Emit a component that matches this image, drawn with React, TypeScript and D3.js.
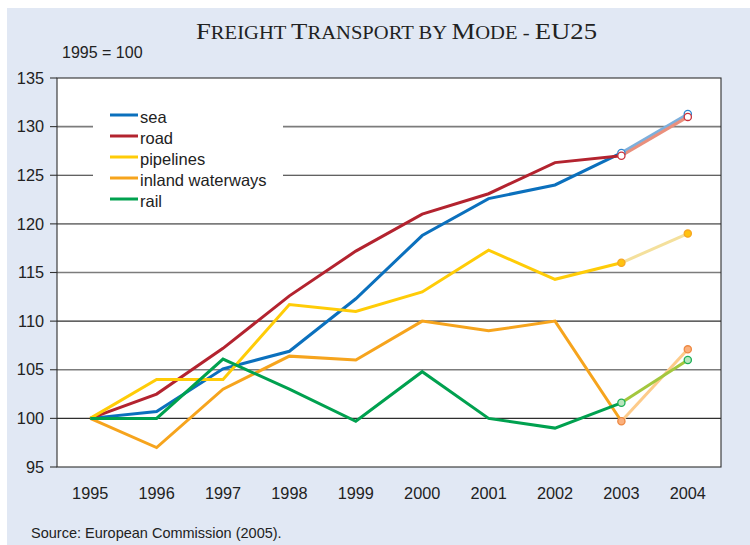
import React from 'react'
import * as d3 from 'd3'

// index values, 1995 = 100
const years = ['1995', '1996', '1997', '1998', '1999', '2000', '2001', '2002', '2003', '2004']
const sea = [100, 100.7, 105.1, 106.9, 112.3, 118.8, 122.6, 124.0, 127.3, 131.3]
const road = [100, 102.5, 107.2, 112.6, 117.2, 121.0, 123.1, 126.3, 127.0, 131.0]
const pipelines = [100, 104, 104, 111.7, 111.0, 113.0, 117.3, 114.3, 116.0, 119.0]
const inlandWaterways = [100, 97, 103, 106.4, 106.0, 110.0, 109.0, 110.0, 99.7, 107.1]
const rail = [100, 100, 106.1, 103.0, 99.7, 104.8, 100.0, 99.0, 101.6, 106.0]
const yTicks = [95, 100, 105, 110, 115, 120, 125, 130, 135]
const seriesNames = ['sea', 'road', 'pipelines', 'inland waterways', 'rail']

const styles = [
  { color: '#0b70bd', est: '#7dafdc', mFill: '#ffffff', mStroke: '#2f86cf' },
  { color: '#b3232f', est: '#ea8f7c', mFill: '#ffffff', mStroke: '#c9323c' },
  { color: '#ffcc07', est: '#f4e09c', mFill: '#ffc20f', mStroke: '#f6a623' },
  { color: '#f6a41d', est: '#fdcb8a', mFill: '#fbb07c', mStroke: '#ee8a44' },
  { color: '#00a14f', est: '#a3c73e', mFill: '#b9e6bd', mStroke: '#1daf57' },
]

const W = 750
const H = 545
const left = 57
const right = 721
const top = 78
const bottom = 467

export default function App() {
  const series = [sea, road, pipelines, inlandWaterways, rail]
  const x = d3.scalePoint<string>().domain(years).range([left, right]).padding(0.5)
  const y = d3.scaleLinear().domain([95, 135]).range([bottom, top])
  const line = d3.line<[string, number]>().x(d => x(d[0]) as number).y(d => y(d[1]))

  const font = '"Liberation Sans", Arial, sans-serif'
  const lighter = [130, 120, 115, 105]

  const big = 24
  const small = 18.5
  const title: [string, number][] = [
    ['F', big], ['REIGHT ', small], ['T', big], ['RANSPORT BY ', small],
    ['M', big], ['ODE - ', small], ['EU25', big],
  ]

  return (
    <svg width={W} height={H} style={{ position: 'absolute', left: 0, top: 0 }}>
      <rect x={7} y={8} width={W - 7} height={H - 8} fill="#e1e8f4" />
      <rect x={left} y={top} width={right - left} height={bottom - top} fill="#fff" />

      <text x={196} y={39} textLength={401} lengthAdjust="spacingAndGlyphs" fill="#222"
        fontFamily='"Liberation Serif", "Times New Roman", serif'>
        {title.map((t, i) => <tspan key={i} fontSize={t[1]}>{t[0]}</tspan>)}
      </text>
      <text x={62} y={58} fontFamily={font} fontSize={16} fill="#222">1995 = 100</text>

      {yTicks.map(v => (
        <g key={v}>
          {v > 95 && v < 135 && (
            <line x1={left} x2={right} y1={y(v)} y2={y(v)}
              stroke={lighter.includes(v) ? '#7c7c7c' : '#2e2e2e'}
              strokeWidth={lighter.includes(v) ? 1.6 : 1.1} />
          )}
          <line x1={50} x2={left} y1={y(v)} y2={y(v)} stroke="#333" strokeWidth={1.1} />
          <text x={44} y={y(v)} dy="0.35em" textAnchor="end" fontFamily={font} fontSize={16.3} fill="#222">{v}</text>
        </g>
      ))}

      {/* legend box hides the gridlines behind it */}
      <rect x={93} y={100} width={190} height={112} fill="#fff" />
      {seriesNames.map((n, i) => (
        <g key={n} transform={`translate(110,${117 + i * 21})`}>
          <line x1={0} x2={28} y1={-2} y2={-2} stroke={styles[i].color} strokeWidth={3} />
          <text x={30} y={0} dy="0.35em" fontFamily={font} fontSize={16.5} fill="#222">{n}</text>
        </g>
      ))}

      <rect x={left} y={top} width={right - left} height={bottom - top} fill="none" stroke="#2e2e2e" strokeWidth={1.1} />

      {series.map((s, i) => {
        const pts = years.map((yr, j) => [yr, s[j]] as [string, number])
        return (
          <g key={i}>
            <path d={line(pts.slice(0, 9)) || ''} fill="none" stroke={styles[i].color} strokeWidth={3} strokeLinejoin="miter" />
            <path d={line(pts.slice(8)) || ''} fill="none" stroke={styles[i].est} strokeWidth={3} />
          </g>
        )
      })}
      {series.map((s, i) => (
        <g key={'m' + i}>
          {[8, 9].map(j => (
            <circle key={j} cx={x(years[j])} cy={y(s[j])} r={3.6}
              fill={styles[i].mFill} stroke={styles[i].mStroke} strokeWidth={1.3} />
          ))}
        </g>
      ))}

      {years.map(yr => (
        <text key={yr} x={x(yr)} y={493} dy="0.35em" textAnchor="middle" fontFamily={font} fontSize={16.3} fill="#222">{yr}</text>
      ))}

      <text x={31} y={533} dy="0.35em" fontFamily={font} fontSize={14.5} fill="#222">Source: European Commission (2005).</text>
    </svg>
  )
}
